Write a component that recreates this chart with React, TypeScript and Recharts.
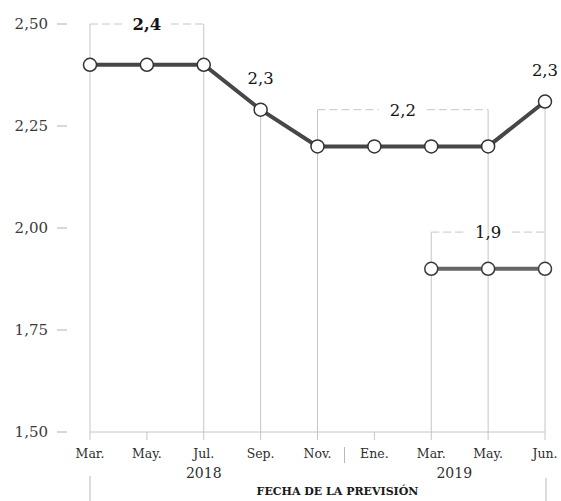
import { LineChart, Line, XAxis, YAxis, ReferenceLine, LabelList } from 'recharts';

const categories = ['Mar18', 'May18', 'Jul18', 'Sep18', 'Nov18', 'Ene19', 'Mar19', 'May19', 'Jun19'];
const monthLabels = ['Mar.', 'May.', 'Jul.', 'Sep.', 'Nov.', 'Ene.', 'Mar.', 'May.', 'Jun.'];
const forecast2019 = [2.4, 2.4, 2.4, 2.29, 2.2, 2.2, 2.2, 2.2, 2.31];
const forecast2020 = [null, null, null, null, null, null, 1.9, 1.9, 1.9];
const pointLabels = ['', '', '', '2,3', '', '', '', '', '2,3'];
const yTicks = [1.5, 1.75, 2, 2.25, 2.5];

// vertical guides: top level per category (null = only the axis tick)
const guideTop = [2.5, null, 2.5, 2.29, 2.29, null, 1.99, 2.29, 2.31];

// dashed brackets over groups of forecasts
const bracketFrom = ['Mar18', 'Nov18', 'Mar19'];
const bracketTo = ['Jul18', 'May19', 'Jun19'];
const bracketLevel = [2.5, 2.29, 1.99];
const bracketText = ['2,4', '2,2', '1,9'];
const bracketBold = [true, false, false];

const yearLabels = ['2018', '2019'];

const data = categories.map((c, i) => ({
  key: c,
  a: forecast2019[i],
  b: forecast2020[i],
}));

const FONT = '"DejaVu Serif", serif';
const GRID = '#c6c6c6';

const YTick = (props: any) => {
  const { x, y, payload } = props;
  return (
    <g>
      <text x={x - 42} y={y + 5} textAnchor="end" fontFamily={FONT} fontSize={15} fill="#3a3a3a">
        {payload.value.toFixed(2).replace('.', ',')}
      </text>
      <line x1={x - 33} x2={x - 23} y1={y} y2={y} stroke="#b0b0b0" strokeWidth={1} />
    </g>
  );
};

const XTick = (props: any) => {
  const { x, y, payload } = props;
  const i = payload.index;
  return (
    <g>
      <text x={x} y={y + 18} textAnchor="middle" fontFamily={FONT} fontSize={12.5} fill="#2e2e2e">
        {monthLabels[i]}
      </text>
      {i === 2 && (
        <text x={x} y={y + 38} textAnchor="middle" fontFamily={FONT} fontSize={14} fill="#2e2e2e">
          {yearLabels[0]}
        </text>
      )}
      {i === 6 && (
        <text x={x + 23} y={y + 38} textAnchor="middle" fontFamily={FONT} fontSize={14} fill="#2e2e2e">
          {yearLabels[1]}
        </text>
      )}
      {i === 0 && <line x1={x} x2={x} y1={y + 36} y2={y + 61} stroke="#b8b8b8" />}
      {i === 8 && <line x1={x + 1} x2={x + 1} y1={y + 38} y2={y + 61} stroke="#b8b8b8" />}
      {i === 4 && <line x1={x + 27} x2={x + 27} y1={y + 7} y2={y + 23} stroke="#b8b8b8" />}
    </g>
  );
};

const makeBracket = (text: string, bold: boolean) => (p: any) => {
  const { x1, x2, y1 } = p;
  const mid = (x1 + x2) / 2;
  const gap = 24;
  return (
    <g>
      <line x1={x1} x2={mid - gap} y1={y1} y2={y1} stroke={GRID} strokeDasharray="8 4" />
      <line x1={mid + gap} x2={x2} y1={y1} y2={y1} stroke={GRID} strokeDasharray="8 4" />
      <text
        x={mid}
        y={y1 + 6}
        textAnchor="middle"
        fontFamily={FONT}
        fontSize={16.5}
        fontWeight={bold ? 'bold' : 'normal'}
        fill="#151515"
      >
        {text}
      </text>
    </g>
  );
};

const PointLabel = (p: any) => {
  const { x, y, index } = p;
  const t = pointLabels[index];
  if (!t) return null;
  return (
    <text x={x} y={y - 26} textAnchor="middle" fontFamily={FONT} fontSize={16.5} fill="#151515">
      {t}
    </text>
  );
};

const AxisTitle = (p: any) => {
  const { viewBox } = p;
  return (
    <text
      x={viewBox.x + viewBox.width / 2 + 20}
      y={viewBox.y + 63}
      textAnchor="middle"
      fontFamily={FONT}
      fontSize={11}
      fontWeight="bold"
      fill="#1a1a1a"
    >
      FECHA DE LA PREVISIÓN
    </text>
  );
};

export default function App() {
  return (
    <div style={{ position: 'absolute', left: 0, top: 0, background: '#fff' }}>
      <LineChart width={561} height={501} data={data} margin={{ top: 24, right: 16, left: 0, bottom: 0 }}>
        <XAxis
          dataKey="key"
          scale="point"
          height={69}
          axisLine={{ stroke: GRID }}
          tickLine={{ stroke: GRID }}
          tickSize={8}
          tickMargin={0}
          tick={<XTick />}
          interval={0}
          label={<AxisTitle />}
        />
        <YAxis
          domain={[1.5, 2.5]}
          ticks={yTicks}
          width={90}
          axisLine={false}
          tickLine={false}
          tickSize={0}
          tickMargin={0}
          tick={<YTick />}
        />
        {categories.map((c, i) =>
          guideTop[i] == null ? null : (
            <ReferenceLine
              key={'g' + c}
              segment={[{ x: c, y: guideTop[i] }, { x: c, y: 1.5 }]}
              stroke={GRID}
              ifOverflow="visible"
            />
          )
        )}
        {bracketFrom.map((f, i) => (
          <ReferenceLine
            key={'b' + i}
            segment={[{ x: f, y: bracketLevel[i] }, { x: bracketTo[i], y: bracketLevel[i] }]}
            ifOverflow="visible"
            shape={makeBracket(bracketText[i], bracketBold[i])}
          />
        ))}
        <Line
          dataKey="b"
          stroke="#666"
          strokeWidth={4}
          isAnimationActive={false}
          dot={{ r: 6.5, fill: '#fff', stroke: '#3a3a3a', strokeWidth: 1.5 }}
          activeDot={false}
        />
        <Line
          dataKey="a"
          stroke="#474747"
          strokeWidth={4}
          isAnimationActive={false}
          dot={{ r: 6.5, fill: '#fff', stroke: '#333', strokeWidth: 1.5 }}
          activeDot={false}
        >
          <LabelList dataKey="a" content={<PointLabel />} />
        </Line>
      </LineChart>
    </div>
  );
}
